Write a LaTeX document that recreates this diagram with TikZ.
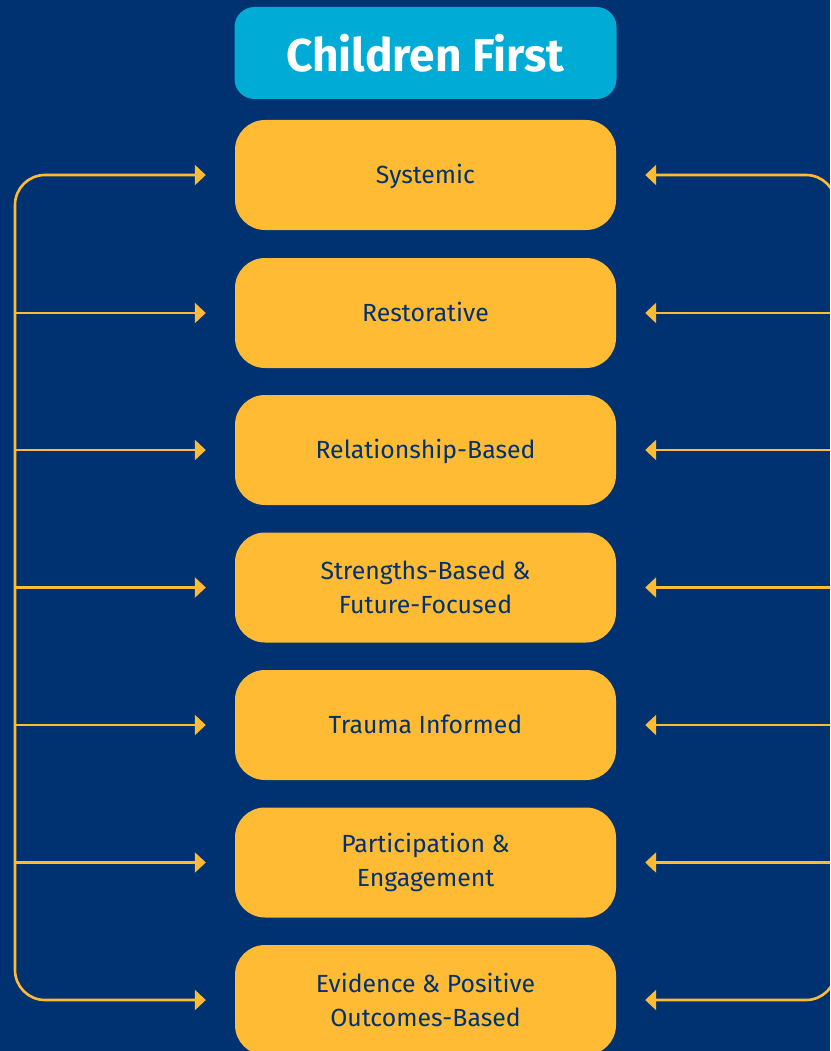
\documentclass[tikz,border=0pt]{standalone}
\usepackage{fontspec}
\setmainfont{Fira Sans}
\usetikzlibrary{arrows.meta}
\definecolor{navy}{HTML}{003170}
\definecolor{cyanbox}{HTML}{00ABD6}
\definecolor{gold}{HTML}{FFBB33}
\tikzset{
  ybox/.style={fill=gold, rounded corners=30pt, minimum width=381pt, minimum height=110pt,
    text=navy, align=center, font=\fontsize{24.8}{34}\selectfont, inner sep=0pt},
  one/.style={text height=17.5pt, text depth=0pt},
  tbox/.style={fill=cyanbox, rounded corners=20pt, minimum width=382pt, minimum height=92pt,
    text=white, font=\fontsize{46}{50}\selectfont\bfseries, inner sep=0pt},
  conn/.style={draw=gold, line width=2.6pt, rounded corners=30pt},
  arr/.style={conn, -{Triangle[length=11pt,width=20pt]}}
}
\begin{document}
\begin{tikzpicture}[x=1pt,y=-1pt]
\fill[navy] (0,0) rectangle (830,1051);
\useasboundingbox (0,0) rectangle (830,1051);
\clip (0,0) rectangle (830,1051);
\node[tbox] (title) at (425.5,53) {Children First};
\node[ybox,one] (b1) at (425.5,175) {Systemic};
\node[ybox,one] (b2) at (425.5,313) {Restorative};
\node[ybox,one] (b3) at (425.5,450) {Relationship-Based};
\node[ybox] (b4) at (425.5,587.5) {Strengths-Based \&\\Future-Focused};
\node[ybox,one] (b5) at (425.5,725) {Trauma Informed};
\node[ybox] (b6) at (425.5,862.5) {Participation \&\\Engagement};
\node[ybox] (b7) at (425.5,1000) {Evidence \& Positive\\Outcomes-Based};
% left and right trunks
\coordinate (L) at (15,587);
\coordinate (R) at (836,587);
\foreach \i in {1,7}{
  \draw[arr] (L) |- ([xshift=-29pt]b\i.west);
  \draw[arr] (R) |- ([xshift=29pt]b\i.east);
}
\foreach \i in {2,...,6}{
  \draw[arr] (L |- b\i.west) -- ([xshift=-29pt]b\i.west);
  \draw[arr] (R |- b\i.east) -- ([xshift=29pt]b\i.east);
}
\end{tikzpicture}
\end{document}
